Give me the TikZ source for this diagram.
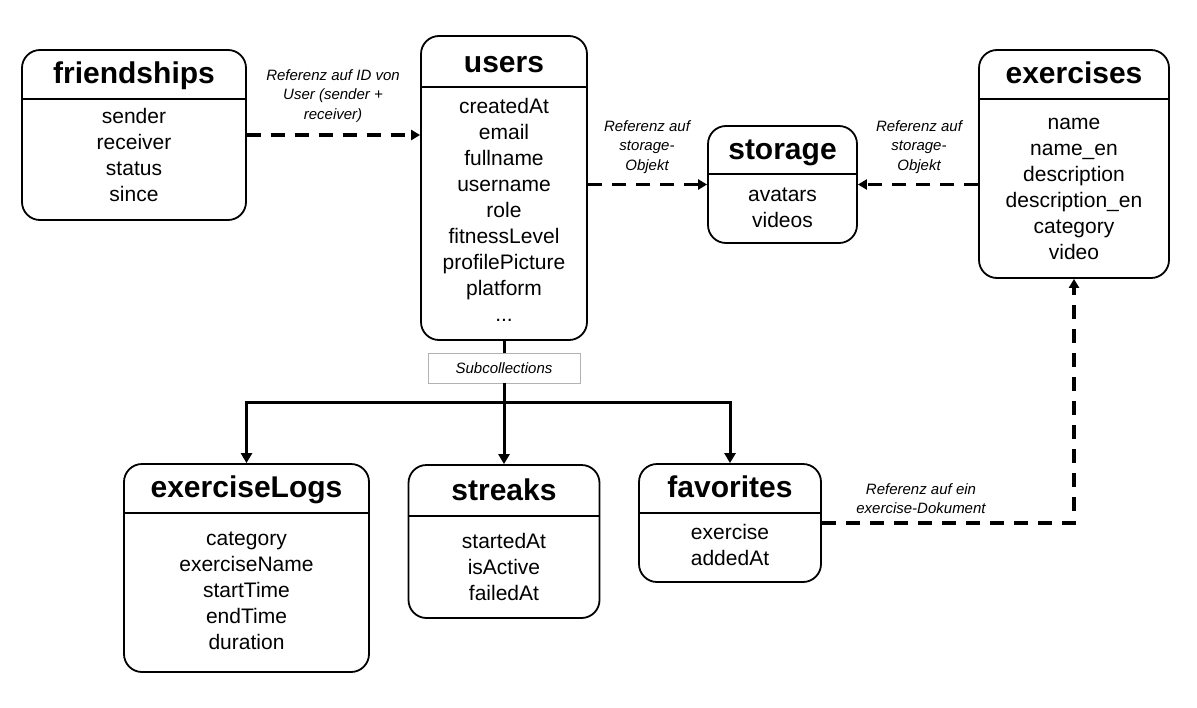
\documentclass[tikz,border=0pt]{standalone}
\usepackage{fontspec}
\setmainfont{Liberation Sans}
\usetikzlibrary{arrows.meta}

\begin{document}
\begin{tikzpicture}[
  x=1pt, y=-1pt,
  entity/.style={draw, rounded corners=18pt, line width=1.8pt, inner sep=0pt},
  divider/.style={line width=1.8pt},
  title/.style={anchor=base, inner sep=0pt, font=\fontsize{30}{36}\selectfont\bfseries},
  fields/.style={anchor=base, inner sep=0pt, align=center, font=\fontsize{21}{26}\selectfont},
  reflabel/.style={anchor=base, inner sep=0pt, align=center, font=\fontsize{15}{19.5}\selectfont\itshape},
  subbox/.style={draw=black!30, line width=0.8pt, fill=white, minimum width=152pt,
    minimum height=30pt, font=\fontsize{15}{18}\selectfont\itshape},
  reference/.style={line width=3.5pt, dash pattern=on 14pt off 10pt,
    -{Triangle[length=9pt,width=10pt]}},
  tree/.style={line width=3pt, -{Triangle[length=10pt,width=11pt]}}
]
\useasboundingbox (0,0) rectangle (1197,707);

% top row (field nodes sit on the baseline of their last line)
\node[entity, minimum width=224pt, minimum height=170pt] (friendships) at (134,135) {};
\node[title] (friendships-title) at (134,83) {friendships};
\draw[divider] (friendships.west |- 0,99) -- (friendships.east |- 0,99);
\node[fields] (friendships-fields) at (134,201) {sender\\receiver\\status\\since};

\node[entity, minimum width=166pt, minimum height=304pt] (users) at (504,188) {};
\node[title] (users-title) at (504,72) {users};
\draw[divider] (users.west |- 0,87) -- (users.east |- 0,87);
\node[fields] (users-fields) at (504,321) {createdAt\\email\\fullname\\username\\role\\fitnessLevel\\profilePicture\\platform\\...};

\node[entity, minimum width=149pt, minimum height=117pt] (storage) at (782.5,184.5) {};
\node[title] (storage-title) at (782.5,159) {storage};
\draw[divider] (storage.west |- 0,174) -- (storage.east |- 0,174);
\node[fields] (storage-fields) at (782.5,227) {avatars\\videos};

\node[entity, minimum width=190pt, minimum height=228pt] (exercises) at (1074,164) {};
\node[title] (exercises-title) at (1074,83) {exercises};
\draw[divider] (exercises.west |- 0,99) -- (exercises.east |- 0,99);
\node[fields] (exercises-fields) at (1074,259) {name\\name\_en\\description\\description\_en\\category\\video};

% subcollections
\node[subbox] (subcoll) at (504,368) {Subcollections};
\coordinate (bus) at (504,402);

\node[entity, minimum width=245pt, minimum height=208pt] (exerciseLogs) at (246.5,568) {};
\node[title] (exerciseLogs-title) at (246.5,497) {exerciseLogs};
\draw[divider] (exerciseLogs.west |- 0,513) -- (exerciseLogs.east |- 0,513);
\node[fields] (exerciseLogs-fields) at (246.5,649) {category\\exerciseName\\startTime\\endTime\\duration};

\node[entity, minimum width=191pt, minimum height=153pt] (streaks) at (504,541.5) {};
\node[title] (streaks-title) at (504,500) {streaks};
\draw[divider] (streaks.west |- 0,516) -- (streaks.east |- 0,516);
\node[fields] (streaks-fields) at (504,600) {startedAt\\isActive\\failedAt};

\node[entity, minimum width=182pt, minimum height=118pt] (favorites) at (730,523) {};
\node[title] (favorites-title) at (730,497) {favorites};
\draw[divider] (favorites.west |- 0,513) -- (favorites.east |- 0,513);
\node[fields] (favorites-fields) at (730,565) {exercise\\addedAt};

% references
\node[reflabel] (friendships-ref) at (333,119) {Referenz auf ID von\\User (sender +\\receiver)};
\node[reflabel] (users-ref) at (647,170) {Referenz auf\\storage-\\Objekt};
\node[reflabel] (exercises-ref) at (919,170) {Referenz auf\\storage-\\Objekt};
\node[reflabel] (favorites-ref) at (921,513.5) {Referenz auf ein\\exercise-Dokument};

\draw[reference] (friendships.east) -- (friendships.east -| users.west);
\draw[reference] (users.east |- storage.west) -- (storage.west);
\draw[reference] (exercises.west |- storage.east) -- (storage.east);
\draw[reference] (favorites.east) -| (exercises.south);

\draw[line width=3pt] (users.south) -- (subcoll.north);
\draw[line width=3pt] (subcoll.south) -- (bus);
\draw[tree] (bus) -| (exerciseLogs.north);
\draw[tree] (bus) -- (streaks.north);
\draw[tree] (bus) -| (favorites.north);
\end{tikzpicture}
\end{document}
